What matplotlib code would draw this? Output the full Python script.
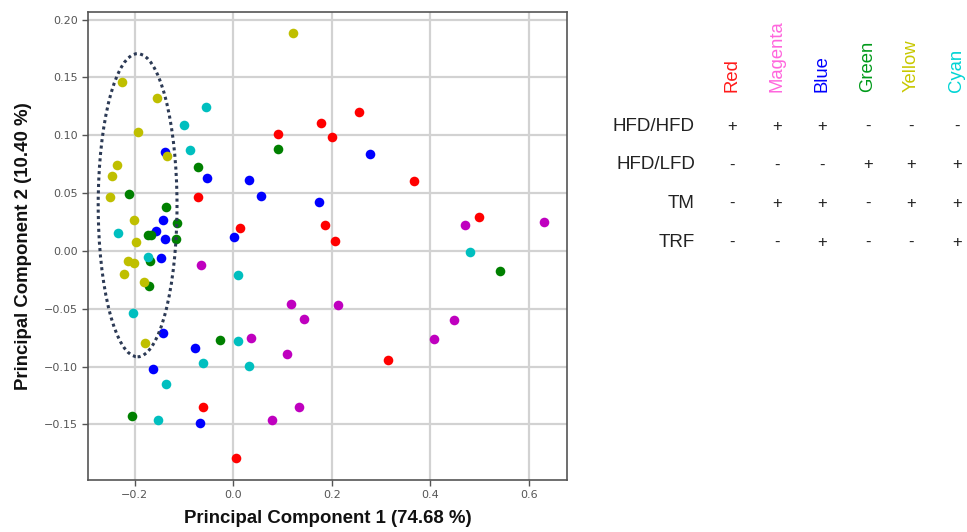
import matplotlib
matplotlib.use('Agg')
import matplotlib.pyplot as plt
from matplotlib.patches import Ellipse

# PCA scores
red_x = [0.090, 0.179, 0.201, 0.256, 0.368, -0.071, 0.0136, 0.186, 0.206, 0.499, 0.314, -0.062, 0.0055]
red_y = [0.101, 0.111, 0.0985, 0.120, 0.0602, 0.0464, 0.0202, 0.022, 0.0086, 0.0297, -0.0945, -0.1345, -0.179]

magenta_x = [0.471, 0.632, -0.066, 0.117, 0.143, 0.212, 0.0353, 0.1095, 0.448, 0.408, 0.133, 0.0785]
magenta_y = [0.0222, 0.0254, -0.0118, -0.0455, -0.0585, -0.0463, -0.0752, -0.089, -0.0593, -0.076, -0.1353, -0.1457]

blue_x = [-0.139, -0.054, 0.032, 0.0575, 0.277, 0.175, -0.142, -0.157, -0.1385, 0.0008, -0.147, -0.1426, -0.0777, -0.162, -0.068]
blue_y = [0.0856, 0.063, 0.0614, 0.0473, 0.0836, 0.0421, 0.0268, 0.017, 0.0104, 0.0121, -0.0063, -0.0705, -0.0835, -0.1022, -0.1483]

green_x = [0.090, -0.071, -0.212, -0.1365, -0.115, -0.172, -0.166, -0.116, -0.168, -0.171, -0.0276, 0.542, -0.206]
green_y = [0.0885, 0.0726, 0.0493, 0.038, 0.0242, 0.0138, 0.0138, 0.0104, -0.0089, -0.0305, -0.0769, -0.017, -0.1429]

yellow_x = [0.122, -0.226, -0.155, -0.193, -0.134, -0.235, -0.245, -0.251, -0.201, -0.197, -0.214, -0.201, -0.221, -0.180, -0.178]
yellow_y = [0.188, 0.146, 0.132, 0.103, 0.0819, 0.0743, 0.065, 0.0464, 0.0268, 0.0075, -0.0083, -0.0104, -0.0196, -0.027, -0.080]

cyan_x = [-0.056, -0.099, -0.088, -0.233, 0.4815, -0.173, 0.0095, -0.203, 0.0095, -0.062, 0.0318, -0.1365, -0.152]
cyan_y = [0.124, 0.109, 0.087, 0.0159, -0.0009, -0.0052, -0.0204, -0.0539, -0.0778, -0.0965, -0.0994, -0.1152, -0.1457]

# legend table
groups = ['Red', 'Magenta', 'Blue', 'Green', 'Yellow', 'Cyan']
group_colors = ['#ff1a1a', '#ff66dd', '#0000ff', '#009a1a', '#c8c800', '#00d4d4']
rows = ['HFD/HFD', 'HFD/LFD', 'TM', 'TRF']
signs = [
    ['+', '+', '+', '-', '-', '-'],
    ['-', '-', '-', '+', '+', '+'],
    ['-', '+', '+', '-', '+', '+'],
    ['-', '-', '+', '-', '-', '+'],
]

fig = plt.figure(figsize=(9.67, 5.32), dpi=100)
ax = fig.add_axes([0.091, 0.0977, 0.495, 0.8793])

series = [(red_x, red_y, 'r'), (magenta_x, magenta_y, 'm'), (blue_x, blue_y, 'b'),
          (green_x, green_y, 'g'), (yellow_x, yellow_y, 'y'), (cyan_x, cyan_y, 'c')]
for xs, ys, c in series:
    ax.scatter(xs, ys, s=48, c=c, linewidths=0, zorder=3)

ax.add_patch(Ellipse((-0.194, 0.0395), 0.160, 0.262, fill=False,
                     edgecolor='#2c3a55', linewidth=2.2, linestyle=(0, (1, 1.1)), zorder=4))

ax.set_xlim(-0.2947, 0.677)
ax.set_ylim(-0.198, 0.2063)
ax.set_xticks([-0.2, 0.0, 0.2, 0.4, 0.6])
ax.set_yticks([-0.15, -0.10, -0.05, 0.00, 0.05, 0.10, 0.15, 0.20])
ax.grid(True, color='#d2d2d2', linewidth=1.6, zorder=0)
ax.set_axisbelow(True)
for sp in ax.spines.values():
    sp.set_color('#555555')
    sp.set_linewidth(1.2)
ax.tick_params(labelsize=8, colors='#555555', length=4, width=1)

lab_font = dict(family=['Liberation Sans', 'DejaVu Sans'], fontsize=13.4, fontweight='bold', color='#111111')
ax.set_xlabel('Principal Component 1 (74.68 %)', labelpad=7, **lab_font)
ax.set_ylabel('Principal Component 2 (10.40 %)', labelpad=8, **lab_font)

col_x = [0.7567, 0.8032, 0.8504, 0.8973, 0.9418, 0.9894]
row_y = [0.763, 0.690, 0.618, 0.545]
tfont = ['Liberation Sans', 'DejaVu Sans']
for name, col, x in zip(groups, group_colors, col_x):
    fig.text(x, 0.827, name, rotation=90, ha='center', va='bottom', color=col,
             fontsize=13.3, family=tfont)
for r, y, row_signs in zip(rows, row_y, signs):
    fig.text(0.7187, y, r, ha='right', va='center', fontsize=13.5, color='#222222', family=tfont)
    for x, s in zip(col_x, row_signs):
        fig.text(x, y, s, ha='center', va='center', fontsize=12, color='#222222', family=tfont)

fig.savefig('out.png', dpi=100)
